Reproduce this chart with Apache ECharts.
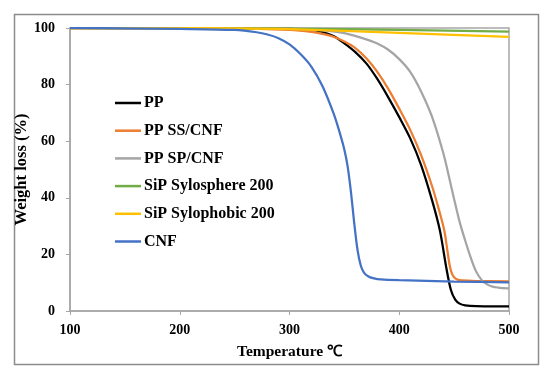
<!DOCTYPE html>
<html>
<head>
<meta charset="utf-8">
<script src="https://cdn.jsdelivr.net/npm/echarts@6/dist/echarts.min.js"></script>
<style>html,body{margin:0;padding:0;background:#fff}#c{width:550px;height:376px}</style>
</head>
<body>
<div id="c"></div>
<script>
// Data: [temperature °C, weight %]
const seriesNames = ['PP', 'PP SS/CNF', 'PP SP/CNF', 'SiP Sylosphere 200', 'SiP Sylophobic 200', 'CNF'];

const ppT = [100, 250, 300, 320, 330, 340, 350, 360, 370, 380, 390, 400, 410, 420, 430, 437, 443, 447, 451, 455, 460, 470, 500];
const ppW = [100, 99.9, 99.7, 99.3, 98.6, 97.2, 94.6, 91.5, 87.5, 82, 75.5, 68.5, 61, 51.5, 39, 28.5, 15, 7.5, 4, 2.6, 2.0, 1.7, 1.6];

const ssT = [100, 250, 300, 320, 330, 340, 350, 360, 370, 380, 390, 400, 410, 420, 430, 436, 441, 444, 446, 448, 450, 453, 457, 470, 500];
const ssW = [100, 99.9, 99.3, 98.6, 97.9, 96.9, 95.2, 92.9, 89.3, 84.5, 78.5, 71.5, 64, 55, 44, 36, 28.5, 21, 16, 13.2, 11.9, 11.1, 10.8, 10.6, 10.5];

const spT = [100, 300, 330, 350, 370, 380, 390, 400, 410, 420, 430, 440, 445, 450, 455, 460, 465, 470, 475, 480, 485, 490, 500];
const spW = [100, 99.8, 99.2, 98.2, 96, 94.5, 92.3, 89, 84.5, 77.5, 68.5, 56, 48, 39.5, 31.5, 25, 19, 14, 11, 9.4, 8.6, 8.3, 8.0];

const sphT = [100, 200, 300, 400, 500];
const sphW = [100, 99.9, 99.8, 99.3, 98.7];

const phoT = [100, 200, 250, 300, 400, 500];
const phoW = [100, 99.95, 99.9, 99.6, 98.3, 96.9];

const cnfT = [100, 150, 200, 250, 270, 280, 290, 300, 310, 320, 330, 340, 345, 350, 353, 356, 359, 362, 365, 368, 372, 376, 380, 400, 450, 500];
const cnfW = [100, 99.9, 99.7, 99.3, 98.5, 97.7, 96.4, 94.2, 90.8, 86.3, 79.5, 70, 64, 57, 51, 42, 31, 21.5, 16, 13.5, 12.2, 11.6, 11.3, 10.9, 10.4, 10.1];

const xTicks = {min: 100, max: 500, interval: 100};
const yTicks = {min: 0, max: 100, interval: 20};

const colors = ['#000000', '#ED7D31', '#A5A5A5', '#70AD47', '#FFC000', '#4472C4'];

function pairs(t, w) { return t.map((v, i) => [v, w[i]]); }
const allData = [pairs(ppT, ppW), pairs(ssT, ssW), pairs(spT, spW), pairs(sphT, sphW), pairs(phoT, phoW), pairs(cnfT, cnfW)];

const FONT = 'Liberation Serif';
const chart = echarts.init(document.getElementById('c'), null, {renderer: 'canvas'});
chart.setOption({
  animation: false,
  backgroundColor: '#fff',
  color: colors,
  graphic: [{
    type: 'rect', left: 12, top: 12, shape: {x: 0, y: 0, width: 524, height: 350},
    style: {fill: 'none', stroke: '#8c8c8c', lineWidth: 1.5}, silent: true
  }],
  grid: {left: 70, right: 41, top: 28, bottom: 65, show: true, borderColor: '#a6a6a6', borderWidth: 1.5},
  legend: {
    orient: 'vertical', left: 115, top: 95, padding: 0, icon: 'rect', itemWidth: 26, itemHeight: 2.5,
    itemGap: 11.7, data: seriesNames,
    textStyle: {fontFamily: FONT, fontWeight: 'bold', fontSize: 16, color: '#000', lineHeight: 16, padding: [0, 0, 0, -2]}
  },
  xAxis: {
    type: 'value', min: xTicks.min, max: xTicks.max, interval: xTicks.interval,
    name: 'Temperature \u2103', nameLocation: 'middle', nameGap: 33, nameMoveOverlap: false,
    nameTextStyle: {fontFamily: FONT, fontWeight: 'bold', fontSize: 15.5, color: '#000'},
    axisLine: {lineStyle: {color: '#a6a6a6', width: 1.5}},
    axisTick: {show: true, length: 4, lineStyle: {color: '#a6a6a6'}},
    axisLabel: {fontFamily: FONT, fontWeight: 'bold', fontSize: 14, color: '#000', margin: 12},
    splitLine: {show: false}
  },
  yAxis: {
    type: 'value', min: yTicks.min, max: yTicks.max, interval: yTicks.interval,
    name: 'Weight loss (%)', nameLocation: 'middle', nameGap: 40, nameMoveOverlap: false,
    nameTextStyle: {fontFamily: FONT, fontWeight: 'bold', fontSize: 16.5, color: '#000'},
    axisLine: {show: true, lineStyle: {color: '#a6a6a6', width: 1.5}},
    axisTick: {show: true, length: 4, lineStyle: {color: '#a6a6a6'}},
    axisLabel: {fontFamily: FONT, fontWeight: 'bold', fontSize: 14, color: '#000', margin: 15},
    splitLine: {show: false}
  },
  series: seriesNames.map((n, i) => ({
    name: n, type: 'line', data: allData[i], showSymbol: false, smooth: 0.3,
    lineStyle: {width: 2.25, color: colors[i]}
  }))
});
</script>
</body>
</html>
